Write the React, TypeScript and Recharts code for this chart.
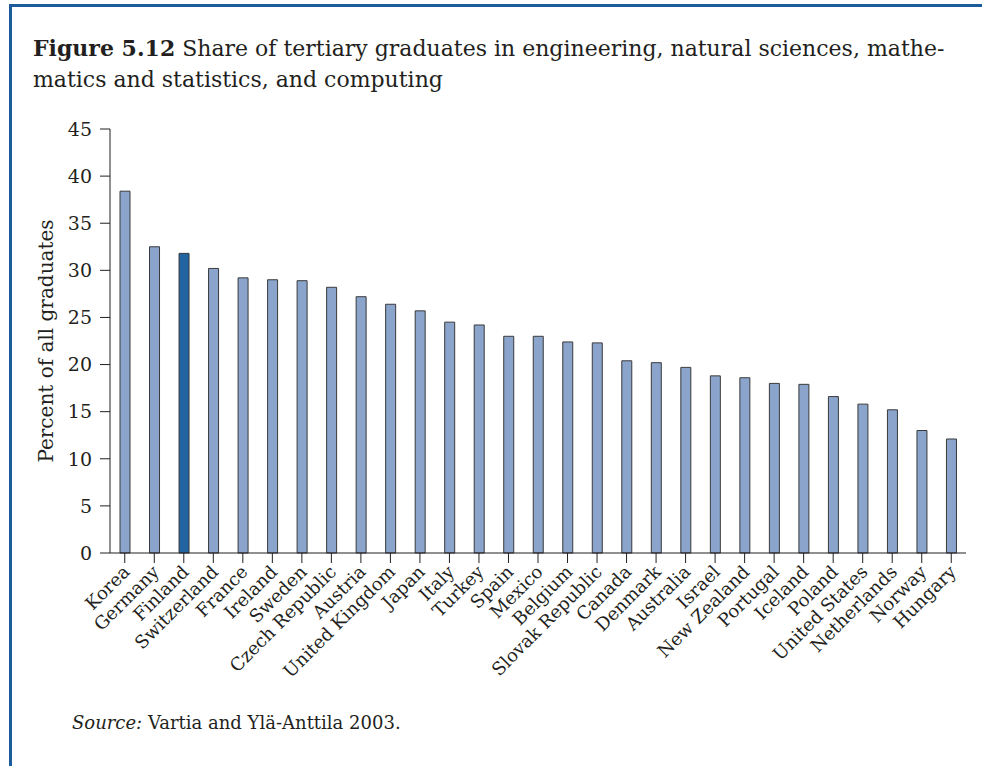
import { BarChart, Bar, XAxis, YAxis, Cell, Label } from "recharts";

const countries = [
  "Korea", "Germany", "Finland", "Switzerland", "France", "Ireland", "Sweden",
  "Czech Republic", "Austria", "United Kingdom", "Japan", "Italy", "Turkey",
  "Spain", "Mexico", "Belgium", "Slovak Republic", "Canada", "Denmark",
  "Australia", "Israel", "New Zealand", "Portugal", "Iceland", "Poland",
  "United States", "Netherlands", "Norway", "Hungary"
];

const shares = [
  38.4, 32.5, 31.8, 30.2, 29.2, 29.0, 28.9,
  28.2, 27.2, 26.4, 25.7, 24.5, 24.2,
  23.0, 23.0, 22.4, 22.3, 20.4, 20.2,
  19.7, 18.8, 18.6, 18.0, 17.9, 16.6,
  15.8, 15.2, 13.0, 12.1
];

const highlighted = ["Finland"];
const yTicks = [0, 5, 10, 15, 20, 25, 30, 35, 40, 45];

const FONT = '"DejaVu Serif", "Liberation Serif", serif';
const INK = "#231f20";
const FRAME = "#1c5c9a";

const data = countries.map((c, i) => ({ country: c, share: shares[i] }));

const XTick = ({ x, y, payload }: any) => (
  <text
    transform={`translate(${x + 6},${y + 8}) rotate(-45)`}
    textAnchor="end"
    fontFamily={FONT}
    fontSize={18}
    fill={INK}
  >
    {payload.value}
  </text>
);

const YLabel = ({ viewBox }: any) => {
  const cx = viewBox.x + 46;
  const cy = viewBox.y + viewBox.height / 2;
  return (
    <text
      x={cx}
      y={cy}
      transform={`rotate(-90 ${cx} ${cy})`}
      textAnchor="middle"
      dominantBaseline="central"
      fontFamily={FONT}
      fontSize={20}
      fill={INK}
    >
      Percent of all graduates
    </text>
  );
};

export default function App() {
  return (
    <div
      style={{
        position: "absolute",
        left: 0,
        top: 0,
        width: 982,
        height: 766,
        background: "#fff",
        fontFamily: FONT,
        color: INK,
        overflow: "hidden"
      }}
    >
      {/* frame: top + left rule */}
      <div
        style={{
          position: "absolute",
          left: 9,
          top: 4,
          right: 0,
          bottom: 0,
          borderTop: `3px solid ${FRAME}`,
          borderLeft: `3px solid ${FRAME}`
        }}
      />
      <div
        style={{
          position: "absolute",
          left: 33,
          top: 33,
          fontSize: 22,
          lineHeight: "31px",
          whiteSpace: "nowrap"
        }}
      >
        <b>Figure 5.12</b> Share of tertiary graduates in engineering, natural sciences, mathe-
        <br />
        matics and statistics, and computing
      </div>
      <div style={{ position: "absolute", left: 0, top: 0 }}>
        <BarChart
          width={982}
          height={766}
          data={data}
          margin={{ top: 129, right: 16, bottom: 0, left: 0 }}
        >
          <XAxis
            dataKey="country"
            interval={0}
            height={213}
            tickSize={10}
            stroke={INK}
            tick={<XTick />}
          />
          <YAxis
            domain={[0, 45]}
            ticks={yTicks}
            width={110}
            tickSize={10}
            tickMargin={8}
            stroke={INK}
            tick={{ fontFamily: FONT, fontSize: 19, fill: INK }}
          >
            <Label content={<YLabel />} />
          </YAxis>
          <Bar
            dataKey="share"
            barSize={10}
            stroke="#3a3a3a"
            strokeWidth={1}
            isAnimationActive={false}
          >
            {data.map((d) => (
              <Cell
                key={d.country}
                fill={highlighted.includes(d.country) ? "#2264a2" : "#8aa4cc"}
              />
            ))}
          </Bar>
        </BarChart>
      </div>
      <div
        style={{ position: "absolute", left: 72, top: 712, fontSize: 18 }}
      >
        <i>Source:</i> Vartia and Ylä-Anttila 2003.
      </div>
    </div>
  );
}
